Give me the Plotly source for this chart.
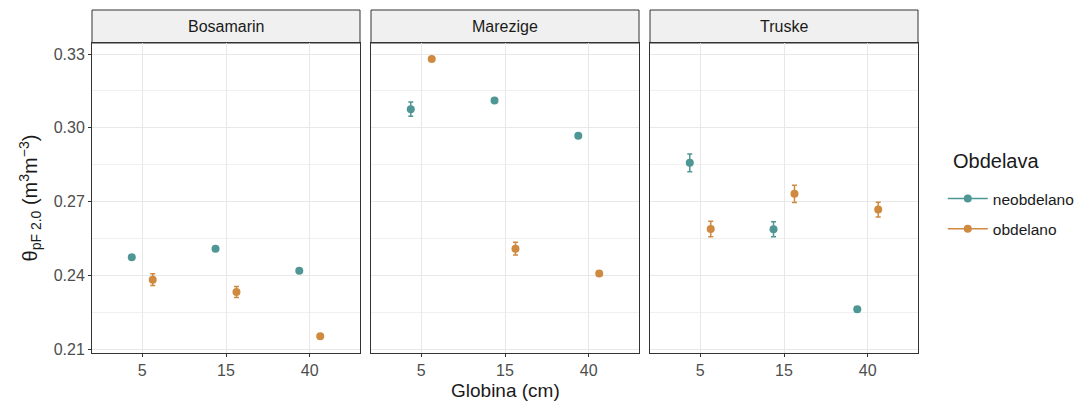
import plotly.graph_objects as go

sites = ["Bosamarin", "Marezige", "Truske"]
depth_labels = ["5", "15", "40"]
groups = ["neobdelano", "obdelano"]

# mean values per site, depth order 5, 15, 40
neo_mean = {
    "Bosamarin": [0.2474, 0.2509, 0.2419],
    "Marezige": [0.3076, 0.3111, 0.2968],
    "Truske": [0.2858, 0.2588, 0.2263],
}
neo_err = {
    "Bosamarin": [0.0007, 0.0007, 0.0007],
    "Marezige": [0.0029, 0.0007, 0.0008],
    "Truske": [0.0036, 0.0030, 0.0010],
}
obd_mean = {
    "Bosamarin": [0.2383, 0.2333, 0.2153],
    "Marezige": [0.3280, 0.2509, 0.2408],
    "Truske": [0.2589, 0.2732, 0.2668],
}
obd_err = {
    "Bosamarin": [0.0024, 0.0022, 0.0007],
    "Marezige": [0.0007, 0.0026, 0.0007],
    "Truske": [0.0031, 0.0035, 0.0030],
}

colors = {"neobdelano": "#4E9794", "obdelano": "#CF8A40"}
offsets = {"neobdelano": -0.125, "obdelano": 0.125}

W, H = 1083, 403
L, R, T, B = 92, 165, 10, 50
pw = W - L - R
ph = H - T - B
panels_px = [(92, 360), (371, 639), (650, 918)]
strip_h = 33
ydom_top = (ph - strip_h) / ph

fig = go.Figure()
for i, site in enumerate(sites):
    ax = "" if i == 0 else str(i + 1)
    for g in groups:
        means = neo_mean[site] if g == "neobdelano" else obd_mean[site]
        errs = neo_err[site] if g == "neobdelano" else obd_err[site]
        xs = [k + 1 + offsets[g] for k in range(len(depth_labels))]
        fig.add_trace(go.Scatter(
            x=xs, y=means, mode="markers",
            marker=dict(color=colors[g], size=8),
            error_y=dict(type="data", array=errs, color=colors[g], thickness=1.5, width=2.5),
            xaxis="x" + ax, yaxis="y" + ax, showlegend=False, hoverinfo="x+y",
        ))

for g in groups:
    fig.add_trace(go.Scatter(
        x=[None], y=[None], mode="lines+markers", name=g, legendgroup=g,
        marker=dict(color=colors[g], size=8),
        line=dict(color=colors[g], width=1.5),
        xaxis="x", yaxis="y",
    ))

layout = dict(
    width=W, height=H,
    margin=dict(l=L, r=R, t=T, b=B, autoexpand=False),
    paper_bgcolor="white", plot_bgcolor="white",
    font=dict(family="Liberation Sans, Arial, sans-serif", color="#4D4D4D"),
    legend=dict(
        x=1.03, xanchor="left", y=(353 - 182) / ph, yanchor="top",
        font=dict(size=15.5, color="#1A1A1A"),
        itemwidth=40, tracegroupgap=7,
    ),
    showlegend=True,
)

shapes = []
annotations = []
for i, (x0, x1) in enumerate(panels_px):
    d0 = (x0 - L) / pw
    d1 = (x1 - L) / pw
    ax = "" if i == 0 else str(i + 1)
    layout["xaxis" + ax] = dict(
        domain=[d0, d1], range=[0.4, 3.6],
        tickvals=[1, 2, 3], ticktext=depth_labels,
        showgrid=True, gridcolor="#E8E8E8", gridwidth=1,
        zeroline=False, ticks="outside", ticklen=3, tickcolor="#333333",
        tickfont=dict(size=16, color="#4D4D4D"),
        showline=True, linecolor="#333333", linewidth=1, mirror=True,
        anchor="y" + ax, fixedrange=True, automargin=False,
    )
    layout["yaxis" + ax] = dict(
        domain=[0, ydom_top], range=[0.2085, 0.3345],
        tickvals=[0.21, 0.24, 0.27, 0.30, 0.33],
        ticktext=["0.21", "0.24", "0.27", "0.30", "0.33"],
        showticklabels=(i == 0),
        showgrid=True, gridcolor="#E8E8E8", gridwidth=1,
        minor=dict(tickvals=[0.225, 0.255, 0.285, 0.315], showgrid=True,
                   gridcolor="#F0F0F0", gridwidth=0.8),
        zeroline=False, ticks="outside" if i == 0 else "", ticklen=3, tickcolor="#333333",
        tickfont=dict(size=16, color="#4D4D4D"),
        showline=True, linecolor="#333333", linewidth=1, mirror=True,
        anchor="x" + ax, fixedrange=True, automargin=False,
    )
    shapes.append(dict(
        type="rect", xref="paper", yref="paper",
        x0=d0, x1=d1, y0=ydom_top, y1=1,
        fillcolor="#F0F0F0", line=dict(color="#333333", width=1), layer="below",
    ))
    annotations.append(dict(
        text=sites[i], xref="paper", yref="paper",
        x=(d0 + d1) / 2, y=(ydom_top + 1) / 2, xanchor="center", yanchor="middle",
        showarrow=False, font=dict(size=16, color="#1A1A1A"),
    ))

layout["yaxis"]["title"] = dict(
    text="θ<sub>pF 2.0</sub> (m<sup>3</sup>m<sup>−3</sup>)",
    font=dict(size=20, color="#1A1A1A"), standoff=10,
)
annotations.append(dict(
    text="Globina (cm)", xref="paper", yref="paper",
    x=((505 - L) / pw), y=-(390 - (H - B)) / ph, xanchor="center", yanchor="middle",
    showarrow=False, font=dict(size=19, color="#1A1A1A"),
))
annotations.append(dict(
    text="Obdelava", xref="paper", yref="paper",
    x=1 + (951 - 918) / pw, y=(353 - 161) / ph, xanchor="left", yanchor="middle",
    showarrow=False, font=dict(size=20, color="#1A1A1A"),
))
layout["shapes"] = shapes
layout["annotations"] = annotations
fig.update_layout(**layout)

fig.write_html(
    "out.html",
    config={"displayModeBar": False},
    post_script="document.body.style.margin='0';document.body.style.padding='0';",
)
